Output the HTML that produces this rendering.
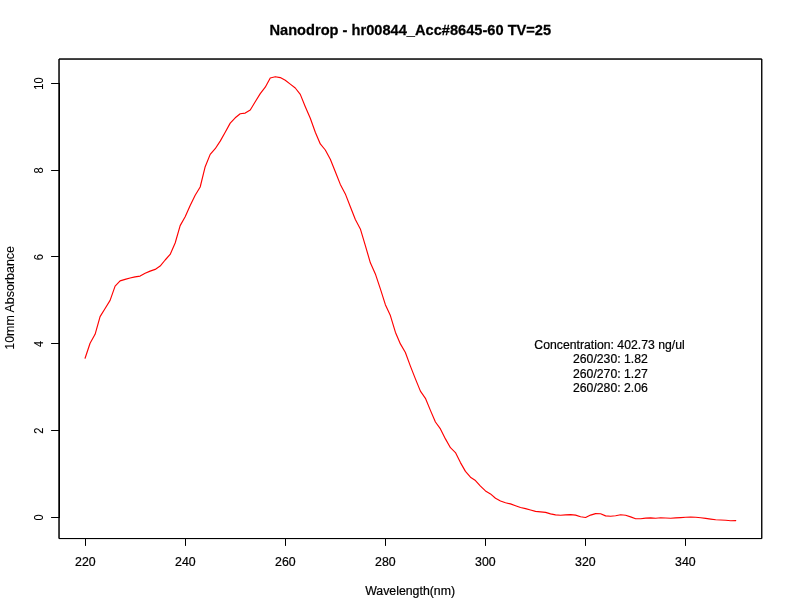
<!DOCTYPE html>
<html lang="en">
<head>
<meta charset="utf-8">
<title>Nanodrop - hr00844_Acc#8645-60 TV=25</title>
<style>
html,body{margin:0;padding:0;background:#fff;}
body{width:792px;height:612px;overflow:hidden;}
svg{display:block;}
text{font-family:"Liberation Sans",Arial,Helvetica,sans-serif;font-size:12px;fill:#000;stroke:#000;stroke-width:0.2;}
.title{font-weight:bold;}
.rot{stroke-width:0.1;}
.ax{stroke:#000;stroke-width:1;fill:none;stroke-linecap:round;}
.box{stroke:#000;stroke-width:1;fill:none;stroke-linejoin:round;}
.curve{stroke:#ff0000;fill:none;stroke-linejoin:round;stroke-linecap:round;}
</style>
</head>
<body>
<svg width="792" height="612" viewBox="0 0 792 612">
<rect x="0" y="0" width="792" height="612" fill="#ffffff"/>
<g id="curve">
<polyline class="curve" stroke-width="1.15" points="85.07,358.20 90.07,343.20 95.08,334.30 100.08,316.60 105.09,308.50 110.09,300.40 115.10,286.10 120.10,280.90 125.11,279.40 130.11,278.00 135.12,276.90 140.12,276.10 145.13,273.30 150.13,271.10 155.14,269.40 160.14,266.10 165.15,260.00 170.15,254.40 175.16,243.00 180.16,225.60 185.17,216.70 190.17,205.60 195.18,195.30 200.18,187.00 205.19,166.70 210.19,154.40 215.20,148.70 220.21,141.10 225.21,132.20 230.22,123.10 235.22,117.80 240.23,113.70 245.23,113.10 250.24,110.00 255.24,101.70 260.25,93.60 265.25,87.20 270.26,78.00 275.26,76.70 280.27,77.60 285.27,80.20 290.28,84.10 295.28,88.00 300.29,94.40 305.29,106.70 310.30,118.30 315.30,132.20 320.31,143.90 325.31,150.00 330.32,159.20 335.32,171.70 340.33,184.40 345.33,193.90 350.34,206.70 355.34,219.50 360.35,228.90 365.35,245.60 370.36,262.80 375.36,273.90 380.37,288.90 385.37,304.70 390.38,315.60 395.38,332.20 400.39,343.90 405.39,352.50 410.40,366.10 415.41,378.90 420.41,391.10 425.42,398.30 430.42,410.40 435.43,422.00 440.43,428.90 445.44,438.90 450.44,447.70 455.45,452.60 460.45,462.60 465.46,471.40 470.46,477.20 475.47,480.60 480.47,486.10 485.48,490.90 490.48,493.90 495.49,498.30 500.49,501.00 505.50,502.80 510.50,503.90 515.51,505.70 520.51,507.50 525.52,508.60 530.52,510.00 535.53,511.40 540.53,511.90 545.54,512.40 550.54,513.90 555.55,514.90 560.55,515.20 565.56,514.90 570.56,514.60 575.57,515.10 580.57,516.80 585.58,517.50 590.58,515.10 595.59,513.60 600.59,513.80 605.60,515.90 610.61,516.30 615.61,515.70 620.62,514.80 625.62,515.30 630.63,516.90 635.63,518.70 640.64,518.70 645.64,518.10 650.65,517.90 655.65,518.20 660.66,517.80 665.66,518.00 670.67,518.30 675.67,517.90 680.68,517.60 685.68,517.30 690.69,517.10 695.69,517.30 700.70,517.80 705.70,518.40 710.71,519.10 715.71,519.80 720.72,520.00 725.72,520.30 730.73,520.80 735.73,520.60"/>
</g>
<g id="x-axis">
<path class="ax" d="M85.5,538.5 H685.5"/>
<path class="ax" d="M85.5,538.5 V545.5"/>
<path class="ax" d="M185.5,538.5 V545.5"/>
<path class="ax" d="M285.5,538.5 V545.5"/>
<path class="ax" d="M385.5,538.5 V545.5"/>
<path class="ax" d="M485.5,538.5 V545.5"/>
<path class="ax" d="M585.5,538.5 V545.5"/>
<path class="ax" d="M685.5,538.5 V545.5"/>
<text transform="translate(85.40,566.00) scale(1.03,1.04)" text-anchor="middle">220</text>
<text transform="translate(185.40,566.00) scale(1.03,1.04)" text-anchor="middle">240</text>
<text transform="translate(285.40,566.00) scale(1.03,1.04)" text-anchor="middle">260</text>
<text transform="translate(385.40,566.00) scale(1.03,1.04)" text-anchor="middle">280</text>
<text transform="translate(485.40,566.00) scale(1.03,1.04)" text-anchor="middle">300</text>
<text transform="translate(585.40,566.00) scale(1.03,1.04)" text-anchor="middle">320</text>
<text transform="translate(685.40,566.00) scale(1.03,1.04)" text-anchor="middle">340</text>
</g>
<g id="y-axis">
<path class="ax" d="M59.5,517.5 V83.5"/>
<path class="ax" d="M59.5,517.5 H51.5"/>
<path class="ax" d="M59.5,430.5 H51.5"/>
<path class="ax" d="M59.5,343.5 H51.5"/>
<path class="ax" d="M59.5,256.5 H51.5"/>
<path class="ax" d="M59.5,170.5 H51.5"/>
<path class="ax" d="M59.5,83.5 H51.5"/>
<text class="rot" transform="translate(43.00,517.50) rotate(-90) scale(0.92,1.04)" text-anchor="middle">0</text>
<text class="rot" transform="translate(43.00,430.72) rotate(-90) scale(0.92,1.04)" text-anchor="middle">2</text>
<text class="rot" transform="translate(43.00,343.94) rotate(-90) scale(0.92,1.04)" text-anchor="middle">4</text>
<text class="rot" transform="translate(43.00,257.16) rotate(-90) scale(0.92,1.04)" text-anchor="middle">6</text>
<text class="rot" transform="translate(43.00,170.38) rotate(-90) scale(0.92,1.04)" text-anchor="middle">8</text>
<text class="rot" transform="translate(43.00,83.60) rotate(-90) scale(0.92,1.04)" text-anchor="middle">10</text>
</g>
<g id="box">
<rect class="box" x="59.04" y="59.04" width="702.72" height="479.52"/>
<rect class="box" x="59.04" y="59.04" width="702.72" height="479.52"/>
</g>
<text class="title" transform="translate(410.30,34.70) scale(1.016,1.07)" text-anchor="middle" style="font-size:14.4px;stroke:#000;stroke-width:0.25">Nanodrop - hr00844_Acc#8645-60 TV=25</text>
<text transform="translate(410.10,594.80) scale(1.028,1.04)" text-anchor="middle">Wavelength(nm)</text>
<text class="rot" transform="translate(14.20,297.90) rotate(-90) scale(1.037,1.04)" text-anchor="middle">10mm Absorbance</text>
<g id="legend">
<text transform="translate(609.50,349.00) scale(1.02,1.04)" text-anchor="middle">Concentration: 402.73 ng/ul</text>
<text transform="translate(610.40,363.30) scale(1.02,1.04)" text-anchor="middle">260/230: 1.82</text>
<text transform="translate(610.40,377.60) scale(1.02,1.04)" text-anchor="middle">260/270: 1.27</text>
<text transform="translate(610.40,391.90) scale(1.02,1.04)" text-anchor="middle">260/280: 2.06</text>
</g>
</svg>
</body>
</html>
